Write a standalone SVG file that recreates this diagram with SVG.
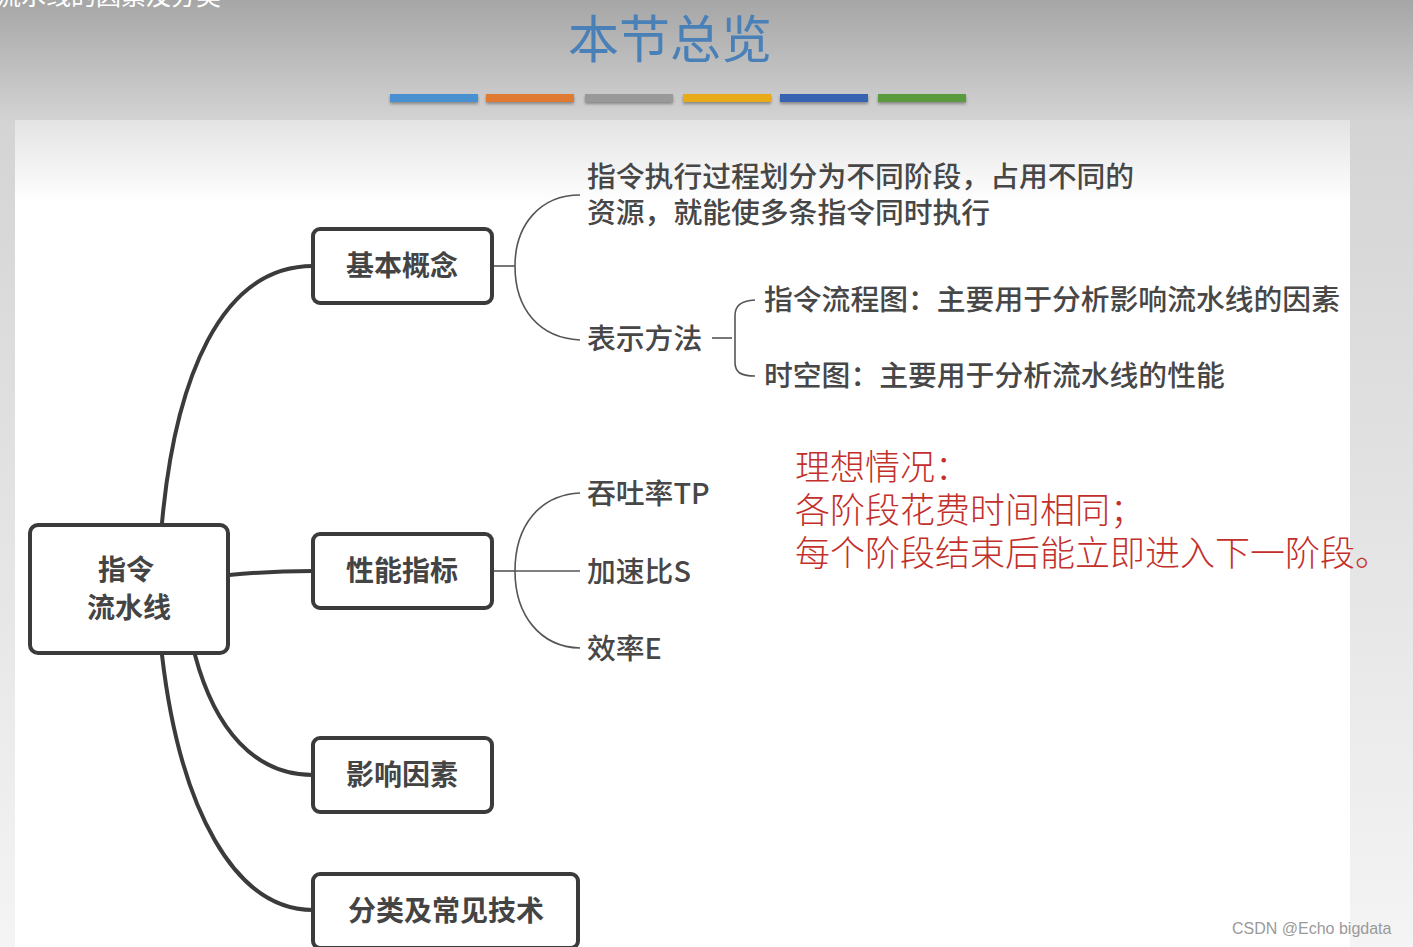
<svg xmlns="http://www.w3.org/2000/svg" width="1413" height="947" viewBox="0 0 1413 947">
<defs>
<linearGradient id="bg" x1="0" y1="0" x2="0" y2="1">
<stop offset="0" stop-color="#a6a6a6"/>
<stop offset="0.13" stop-color="#d4d4d4"/>
<stop offset="1" stop-color="#f4f4f4"/>
</linearGradient>
<linearGradient id="panel" x1="0" y1="0" x2="0" y2="1">
<stop offset="0" stop-color="#e3e3e3"/>
<stop offset="0.1" stop-color="#ffffff"/>
<stop offset="1" stop-color="#ffffff"/>
</linearGradient>
<filter id="sh" x="-10%" y="-50%" width="120%" height="250%">
<feGaussianBlur in="SourceAlpha" stdDeviation="1.5"/>
<feOffset dy="2"/>
<feComponentTransfer><feFuncA type="linear" slope="0.35"/></feComponentTransfer>
<feMerge><feMergeNode/><feMergeNode in="SourceGraphic"/></feMerge>
</filter>
</defs>
<style>
.box{fill:#ffffff;stroke:#3b3b3b;stroke-width:4}
.nt{font-family:"Noto Sans CJK SC","Liberation Sans",sans-serif;font-size:28px;font-weight:bold;fill:#444444;text-anchor:middle}
.lt{font-family:"Noto Sans CJK SC","Liberation Sans",sans-serif;font-size:28.8px;font-weight:500;fill:#474747}
.main{fill:none;stroke:#3b3b3b;stroke-width:4;stroke-linecap:round}
.thin{fill:none;stroke:#555555;stroke-width:1.6}
.red{font-family:"Noto Sans CJK SC",serif;font-size:35px;font-weight:300;fill:#c3302b}
</style>
<rect x="0" y="0" width="1413" height="947" fill="url(#bg)"/>
<rect x="15" y="120" width="1335" height="827" fill="url(#panel)"/>
<text x="-4" y="5" font-family="Noto Sans CJK SC,sans-serif" font-size="25" fill="#ffffff">流水线的因素及分类</text>
<text x="670" y="58" text-anchor="middle" font-family="Noto Sans CJK SC,serif" font-size="51" font-weight="400" fill="#4a80b8">本节总览</text>
<g id="bars" filter="url(#sh)">
<rect x="390" y="94" width="88" height="8" fill="#4a90d0"/>
<rect x="486" y="94" width="88" height="8" fill="#e07a30"/>
<rect x="585" y="94" width="88" height="8" fill="#999999"/>
<rect x="683" y="94" width="88" height="8" fill="#e8aa14"/>
<rect x="780" y="94" width="88" height="8" fill="#3862b2"/>
<rect x="878" y="94" width="88" height="8" fill="#5a9a3e"/>
</g>
<g id="connectors">
<path class="main" d="M162,523 C175,380 220,266 313,266"/>
<path class="main" d="M229,575 C260,572 285,571 313,571"/>
<path class="main" d="M195,655 C215,730 255,775 313,775"/>
<path class="main" d="M162,655 C180,810 235,910 313,910"/>
<path class="thin" d="M492,266 L515,266"/>
<path class="thin" d="M515,266 C515,225 540,195 580,195"/>
<path class="thin" d="M515,266 C515,310 540,338 580,340"/>
<path class="thin" d="M712,338 L732,338"/>
<path class="thin" d="M755,300 C740,301 735,306 735,316 L735,362 C735,372 740,376 755,376"/>
<path class="thin" d="M492,571 L515,571"/>
<path class="thin" d="M515,571 C515,525 540,495 580,493"/>
<path class="thin" d="M515,571 L580,571"/>
<path class="thin" d="M515,571 C515,615 540,647 580,648"/>
</g>
<g id="root">
<rect class="box" x="30" y="525" width="198" height="128" rx="8"/>
<text class="nt" x="126" y="580">指令</text>
<text class="nt" x="129" y="618">流水线</text>
</g>
<g id="n-basic">
<rect class="box" x="313" y="229" width="179" height="74" rx="7"/>
<text class="nt" x="402" y="276">基本概念</text>
</g>
<g id="n-perf">
<rect class="box" x="313" y="534" width="179" height="74" rx="7"/>
<text class="nt" x="402" y="581">性能指标</text>
</g>
<g id="n-factor">
<rect class="box" x="313" y="738" width="179" height="74" rx="7"/>
<text class="nt" x="402" y="785">影响因素</text>
</g>
<g id="n-class">
<rect class="box" x="313" y="874" width="265" height="74" rx="7"/>
<text class="nt" x="446" y="921">分类及常见技术</text>
</g>
<g id="leaf-def">
<text class="lt" x="587" y="187">指令执行过程划分为不同阶段，占用不同的</text>
<text class="lt" x="587" y="223">资源，就能使多条指令同时执行</text>
</g>
<g id="leaf-repr"><text class="lt" x="587" y="349">表示方法</text></g>
<g id="leaf-flow"><text class="lt" x="764" y="310">指令流程图：主要用于分析影响流水线的因素</text></g>
<g id="leaf-st"><text class="lt" x="764" y="386">时空图：主要用于分析流水线的性能</text></g>
<g id="leaf-tp"><text class="lt" x="587" y="504">吞吐率TP</text></g>
<g id="leaf-s"><text class="lt" x="587" y="582">加速比S</text></g>
<g id="leaf-e"><text class="lt" x="587" y="659">效率E</text></g>
<g id="note">
<text class="red" x="795" y="480">理想情况：</text>
<text class="red" x="795" y="523">各阶段花费时间相同；</text>
<text class="red" x="795" y="566">每个阶段结束后能立即进入下一阶段。</text>
</g>
<text x="1232" y="934" font-family="Liberation Sans,sans-serif" font-size="16" fill="#9a9a9a">CSDN @Echo bigdata</text>
</svg>
